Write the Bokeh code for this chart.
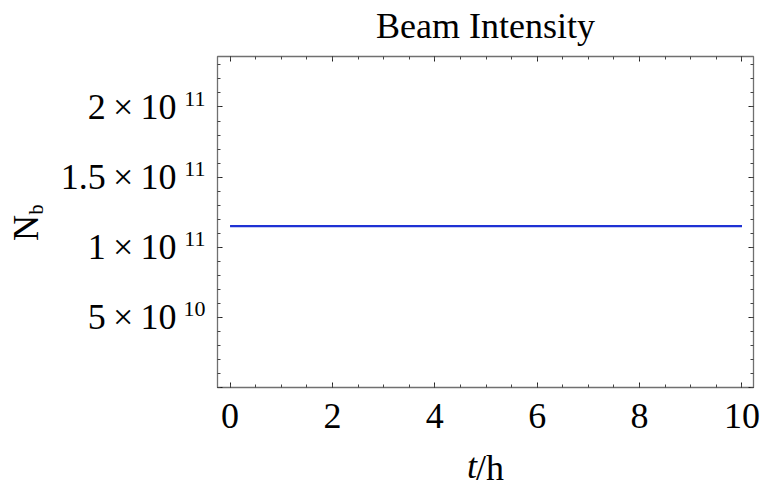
from bokeh.plotting import figure
from bokeh.models import Range1d, FixedTicker, LinearAxis
from bokeh.embed import file_html
from bokeh.resources import INLINE

# ---- data ----
t_hours = [0, 2, 4, 6, 8, 10]
nb_values = [1.15e11, 1.15e11, 1.15e11, 1.15e11, 1.15e11, 1.15e11]

x_major = [0, 2, 4, 6, 8, 10]
x_minor = [i * 0.5 for i in range(0, 21)]
y_major = [5e10, 1e11, 1.5e11, 2e11]
y_minor = [i * 1e10 for i in range(0, 24)]
y_label_main = ["5\u2009×\u200910", "1\u2009×\u200910", "1.5\u2009×\u200910", "2\u2009×\u200910"]
y_label_sup = ["10", "11", "11", "11"]

title_text = "Beam Intensity"
FONT = "Liberation Serif"
NB = "\u00a0"
# axis-title pieces (non-breaking spaces only shift each piece off the centre line)
x_title_t = "t" + NB * 3
x_title_h = NB + "/h"
y_title_N = "N" + NB + "\u200a"
y_title_b = "\u2003" + NB + "b"

x0, x1 = -0.245, 10.225
y0, y1 = 0.0, 2.36e11

W, H = 763, 490
ML, MR, MT, MB = 217, 10, 56, 102

p = figure(width=W, height=H, output_backend="svg", toolbar_location=None,
           x_range=Range1d(x0, x1), y_range=Range1d(y0, y1),
           min_border_left=ML, min_border_right=MR, min_border_top=MT, min_border_bottom=MB)
p.background_fill_color = "white"
p.border_fill_color = "white"
p.xgrid.visible = False
p.ygrid.visible = False
p.outline_line_color = "#707070"
p.outline_line_width = 1.3
p.title.text = ""

def bare(ax):
    """axis without a drawn line, ticks or tick labels"""
    ax.ticker = FixedTicker(ticks=[], minor_ticks=[])
    ax.axis_line_color = None
    ax.major_tick_line_color = None
    ax.minor_tick_line_color = None
    ax.major_tick_in = 0
    ax.major_tick_out = 0
    ax.minor_tick_in = 0
    ax.minor_tick_out = 0
    ax.major_label_standoff = 0
    return ax

def tick_axis(ax, major, minor, labels):
    ax.ticker = FixedTicker(ticks=major, minor_ticks=minor)
    ax.axis_line_color = None
    ax.major_tick_in = 5
    ax.major_tick_out = 0
    ax.minor_tick_in = 3
    ax.minor_tick_out = 0
    ax.major_tick_line_color = "#222222"
    ax.minor_tick_line_color = "#444444"
    ax.major_tick_line_width = 1
    ax.minor_tick_line_width = 1
    ax.major_label_text_font = FONT
    ax.major_label_text_color = "black"
    if labels:
        ax.major_label_text_font_size = "36px"
        ax.major_label_standoff = 16
    else:
        ax.major_label_overrides = {v: "" for v in major}
        ax.major_label_text_font_size = "1px"
        ax.major_label_standoff = 0

def title_style(ax, text, size, style, standoff):
    ax.axis_label = text
    ax.axis_label_text_font = FONT
    ax.axis_label_text_font_size = size
    ax.axis_label_text_font_style = style
    ax.axis_label_text_color = "black"
    ax.axis_label_standoff = standoff

tick_axis(p.xaxis[0], x_major, x_minor, True)
tick_axis(p.yaxis[0], [0] + y_major, y_minor, False)

# top axis: mirrored ticks + chart title as its label
top_ax = LinearAxis()
tick_axis(top_ax, x_major, x_minor, False)
title_style(top_ax, title_text, "36px", "normal", 11)
p.add_layout(top_ax, "above")

right_ax = LinearAxis()
tick_axis(right_ax, [0] + y_major, y_minor, False)
p.add_layout(right_ax, "right")

# superscript tick labels: an axis on a slightly shifted copy of the y range
frame_h = H - MT - MB
raise_px = 8.2
d = raise_px / frame_h * (y1 - y0)
p.extra_y_ranges = {"sup": Range1d(y0 - d, y1 - d)}
sup_ax = bare(LinearAxis(y_range_name="sup"))
sup_ax.ticker = FixedTicker(ticks=y_major, minor_ticks=[])
sup_ax.major_label_overrides = {v: s for v, s in zip(y_major, y_label_sup)}
sup_ax.major_label_text_font = FONT
sup_ax.major_label_text_font_size = "22px"
sup_ax.major_label_text_color = "black"
sup_ax.major_label_standoff = 12
p.add_layout(sup_ax, "left")

main_ax = bare(LinearAxis())
main_ax.ticker = FixedTicker(ticks=y_major, minor_ticks=[])
main_ax.major_label_overrides = {v: s for v, s in zip(y_major, y_label_main)}
main_ax.major_label_text_font = FONT
main_ax.major_label_text_font_size = "36px"
main_ax.major_label_text_color = "black"
main_ax.major_label_standoff = 4
p.add_layout(main_ax, "left")

# y axis title  N_b
b_ax = bare(LinearAxis())
title_style(b_ax, y_title_b, "20px", "normal", 11)
p.add_layout(b_ax, "left")

n_ax = bare(LinearAxis())
title_style(n_ax, y_title_N, "36px", "normal", -24)
p.add_layout(n_ax, "left")

# x axis title  t/h : italic t and upright /h
t_ax = bare(LinearAxis())
title_style(t_ax, x_title_t, "36px", "italic", 15)
p.add_layout(t_ax, "below")

h_ax = bare(LinearAxis())
title_style(h_ax, x_title_h, "36px", "normal", -41)
p.add_layout(h_ax, "below")

p.line(t_hours, nb_values, line_color="#1f32d4", line_width=2.2)

open("out.html", "w").write(file_html(p, INLINE))
